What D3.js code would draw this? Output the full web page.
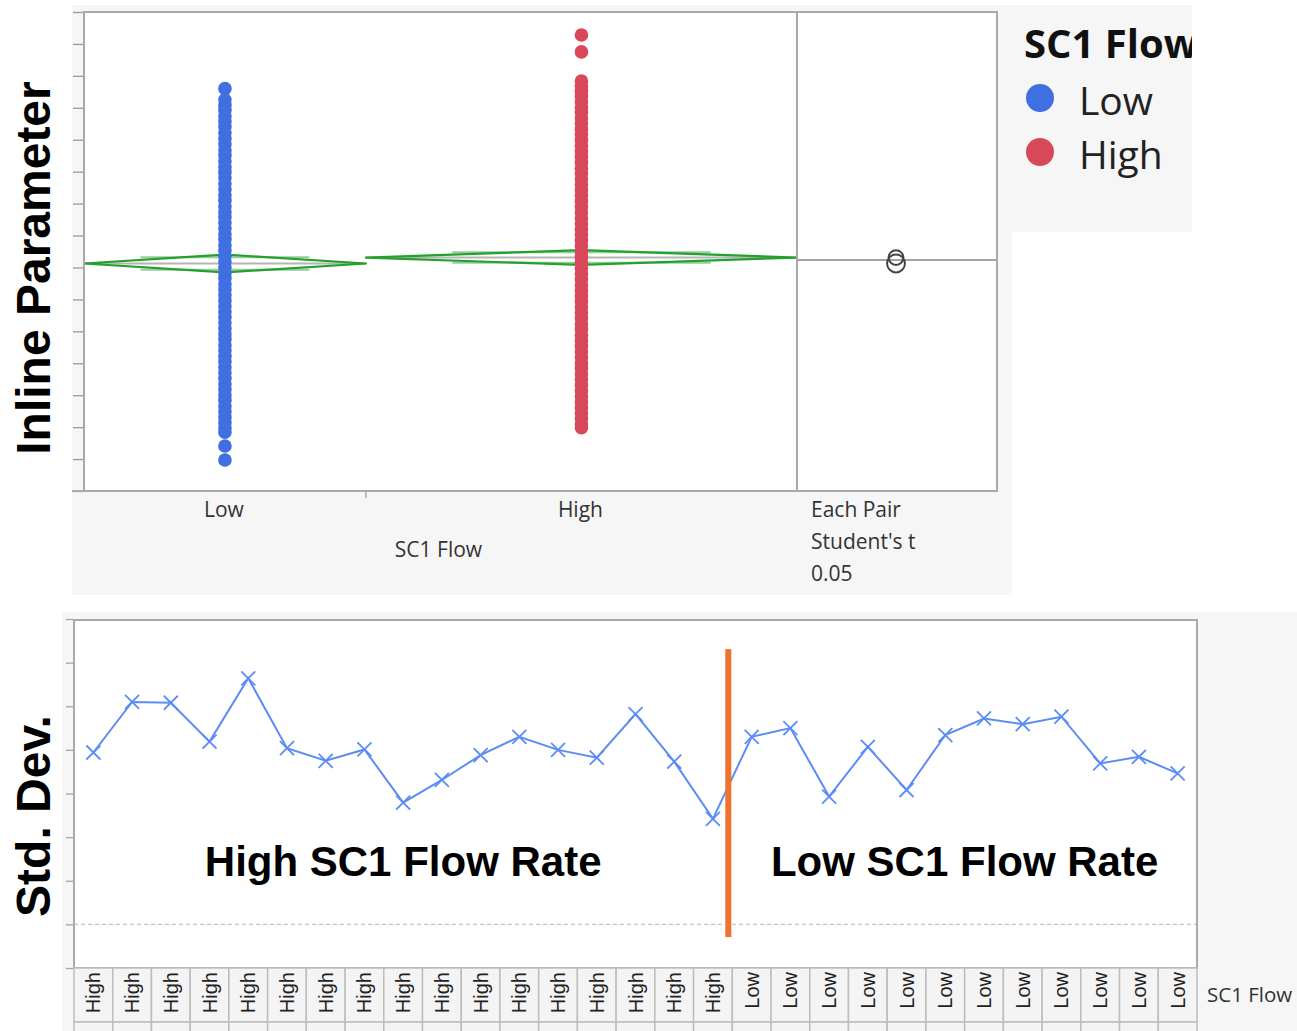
<!DOCTYPE html>
<html>
<head>
<meta charset="utf-8">
<script src="https://cdn.jsdelivr.net/npm/d3@7"></script>
<style>
  html, body { margin: 0; padding: 0; background: #ffffff; }
  svg { display: block; }
</style>
</head>
<body>
<svg id="chart" width="1297" height="1031"></svg>
<script>
// ---- Oneway panel data: Inline Parameter by SC1 Flow ----
const groups = ["Low", "High"];
const groupColors = ["#3f6fe0", "#d9475a"];
const groupN = [340, 520];          // group sizes (set the proportional x widths)
const groupMeans = [7.125, 7.31];
const groupCI = [0.28, 0.23];       // 95% CI half widths of the means

const lowValues = [12.60, 12.25, 12.08, 11.92, 11.74, 11.57, 11.41, 11.22, 11.05, 10.87,
  10.68, 10.51, 10.33, 10.15, 9.98, 9.81, 9.62, 9.44, 9.27, 9.10, 8.92, 8.74, 8.57, 8.40,
  8.22, 8.05, 7.88, 7.70, 7.53, 7.36, 7.18, 7.01, 6.83, 6.66, 6.48, 6.31, 6.14, 5.96,
  5.79, 5.61, 5.44, 5.27, 5.09, 4.92, 4.75, 4.57, 4.40, 4.22, 4.05, 3.88, 3.70, 3.53,
  3.35, 3.18, 3.01, 2.84, 2.66, 2.49, 2.32, 2.14, 1.98, 1.84, 1.41, 0.97];
const highValues = [14.28, 13.75, 12.84, 12.68, 12.52, 12.36, 12.19, 12.02, 11.86, 11.68,
  11.51, 11.33, 11.16, 10.98, 10.81, 10.64, 10.47, 10.29, 10.11, 9.94, 9.77, 9.59, 9.42,
  9.25, 9.07, 8.90, 8.72, 8.55, 8.37, 8.20, 8.03, 7.85, 7.68, 7.50, 7.33, 7.15, 6.98,
  6.80, 6.63, 6.45, 6.28, 6.11, 5.93, 5.76, 5.58, 5.41, 5.23, 5.06, 4.88, 4.71, 4.53,
  4.36, 4.18, 4.01, 3.84, 3.66, 3.49, 3.31, 3.14, 2.96, 2.79, 2.61, 2.44, 2.27, 2.10, 1.98];
const compareLabel = ["Each Pair", "Student's t", "0.05"];

// ---- Variability panel data: Std. Dev. per run ----
const runFlow = ["High","High","High","High","High","High","High","High","High","High",
  "High","High","High","High","High","High","High",
  "Low","Low","Low","Low","Low","Low","Low","Low","Low","Low","Low","Low"];
const runStdDev = [4.94, 6.10, 6.08, 5.19, 6.64, 5.04, 4.75, 5.01, 3.79, 4.31,
  4.88, 5.30, 5.00, 4.82, 5.82, 4.73, 3.42,
  5.30, 5.50, 3.93, 5.07, 4.08, 5.34, 5.72, 5.59, 5.76, 4.69, 4.84, 4.46];
const stdTicks = [0, 1, 2, 3, 4, 5, 6, 7, 8];
const stdRefLine = 1;
const regionLabels = ["High SC1 Flow Rate", "Low SC1 Flow Rate"];

const svg = d3.select("#chart");
const uiFont = "'Open Sans', 'Noto Sans', sans-serif";
const boldFont = "'Liberation Sans', Arial, sans-serif";
const panelGray = "#f6f6f6";
const frameGray = "#a9a9a9";

// =================== TOP PANEL ===================
const topP = { left: 84, right: 797, outer: 997, top: 12, bottom: 491 };
svg.append("rect").attr("x", 72).attr("y", 5).attr("width", 940).attr("height", 590).attr("fill", panelGray);
svg.append("rect").attr("x", 1012).attr("y", 5).attr("width", 180).attr("height", 227).attr("fill", panelGray);
svg.append("rect").attr("x", topP.left).attr("y", topP.top)
  .attr("width", topP.outer - topP.left).attr("height", topP.bottom - topP.top).attr("fill", "#ffffff");

const yTop = d3.scaleLinear().domain([0, 15]).range([topP.bottom, topP.top]);
const nTotal = d3.sum(groupN);
const xTop = d3.scaleLinear().domain([0, nTotal]).range([topP.left, topP.right]);
const cum = [0, groupN[0], nTotal];
const groupCenter = i => xTop((cum[i] + cum[i + 1]) / 2);

// left axis ticks (no labels)
const yAxisTop = d3.axisLeft(yTop).tickValues(d3.range(0, 16)).tickSize(11).tickFormat("");
const gYTop = svg.append("g").attr("transform", `translate(${topP.left},0)`).call(yAxisTop);
gYTop.select(".domain").remove();
gYTop.selectAll("line").attr("stroke", "#9a9a9a").attr("stroke-width", 1.3);

// grand mean of all observations
const grandMean = d3.sum(groupMeans.map((m, i) => m * groupN[i])) / nTotal;

// means diamonds
const diamondG = svg.append("g");
groups.forEach((g, i) => {
  const x0 = xTop(cum[i]), x1 = xTop(cum[i + 1]), xc = (x0 + x1) / 2;
  const m = groupMeans[i], ci = groupCI[i];
  diamondG.append("line").attr("x1", x0).attr("x2", x1).attr("y1", yTop(m)).attr("y2", yTop(m))
    .attr("stroke", "#b5b5b5").attr("stroke-width", 2);
  const om = ci / Math.SQRT2;
  [m + om, m - om].forEach(v => {
    diamondG.append("line").attr("x1", x0 + (x1 - x0) * 0.2).attr("x2", x1 - (x1 - x0) * 0.2)
      .attr("y1", yTop(v)).attr("y2", yTop(v))
      .attr("stroke", "#7cc47f").attr("stroke-width", 2).attr("opacity", 0.8);
  });
  const pts = [[x0, yTop(m)], [xc, yTop(m + ci)], [x1, yTop(m)], [xc, yTop(m - ci)]];
  diamondG.append("path").attr("d", d3.line()(pts) + "Z")
    .attr("fill", "none").attr("stroke", "#23a02d").attr("stroke-width", 2.2)
    .attr("stroke-linejoin", "round");
});

// observations
const pointsG = svg.append("g");
[lowValues, highValues].forEach((vals, i) => {
  pointsG.selectAll(null).data(vals).enter().append("circle")
    .attr("cx", groupCenter(i)).attr("cy", d => yTop(d)).attr("r", 6.8)
    .attr("fill", groupColors[i]);
});

// comparison circles
svg.append("line").attr("x1", topP.right).attr("x2", topP.outer)
  .attr("y1", yTop(grandMean)).attr("y2", yTop(grandMean))
  .attr("stroke", "#a3a3a3").attr("stroke-width", 2);
const circX = (topP.right + topP.outer) / 2 - 1;
groups.forEach((g, i) => {
  const r = yTop(0) - yTop(groupCI[i]);
  svg.append("circle").attr("cx", circX).attr("cy", yTop(groupMeans[i])).attr("r", r)
    .attr("fill", "none").attr("stroke", "#444").attr("stroke-width", 2);
});

// frame
svg.append("rect").attr("x", topP.left).attr("y", topP.top)
  .attr("width", topP.outer - topP.left).attr("height", topP.bottom - topP.top)
  .attr("fill", "none").attr("stroke", frameGray).attr("stroke-width", 2);
svg.append("line").attr("x1", topP.right).attr("x2", topP.right).attr("y1", topP.top).attr("y2", topP.bottom)
  .attr("stroke", frameGray).attr("stroke-width", 2);
svg.append("line").attr("x1", 72).attr("x2", topP.outer).attr("y1", topP.bottom).attr("y2", topP.bottom)
  .attr("stroke", frameGray).attr("stroke-width", 2);
svg.append("line").attr("x1", xTop(cum[1])).attr("x2", xTop(cum[1])).attr("y1", topP.bottom).attr("y2", topP.bottom + 7)
  .attr("stroke", frameGray).attr("stroke-width", 1.5);

// x labels
groups.forEach((g, i) => {
  svg.append("text").attr("x", groupCenter(i) - 1).attr("y", 517).attr("text-anchor", "middle")
    .attr("font-family", uiFont).attr("font-size", 21).attr("fill", "#333").text(g);
});
svg.append("text").attr("x", (topP.left + topP.right) / 2 - 2).attr("y", 557).attr("text-anchor", "middle")
  .attr("font-family", uiFont).attr("font-size", 21).attr("fill", "#333").text("SC1 Flow");
compareLabel.forEach((t, i) => {
  svg.append("text").attr("x", 811).attr("y", 517 + i * 32)
    .attr("font-family", uiFont).attr("font-size", 21).attr("fill", "#333").text(t);
});

// y title
svg.append("text").attr("transform", "translate(50,268) rotate(-90)").attr("text-anchor", "middle")
  .attr("font-family", boldFont).attr("font-weight", "bold").attr("font-size", 48).attr("fill", "#000")
  .text("Inline Parameter");

// legend
const clip = svg.append("defs").append("clipPath").attr("id", "legClip");
clip.append("rect").attr("x", 1012).attr("y", 5).attr("width", 180).attr("height", 227);
const leg = svg.append("g");
leg.append("text").attr("x", 1024).attr("y", 58).attr("font-family", uiFont).attr("font-weight", "bold")
  .attr("font-size", 40).attr("fill", "#111").attr("clip-path", "url(#legClip)").text("SC1 Flow");
groups.forEach((g, i) => {
  const cy = 98 + i * 54;
  leg.append("circle").attr("cx", 1040).attr("cy", cy).attr("r", 14).attr("fill", groupColors[i]);
  leg.append("text").attr("x", 1079).attr("y", cy + 17).attr("font-family", uiFont)
    .attr("font-size", 39).attr("fill", "#222").text(g);
});

// =================== BOTTOM PANEL ===================
const botP = { left: 74, right: 1197, top: 620, bottom: 968, cellBottom: 1022 };
svg.append("rect").attr("x", 62).attr("y", 612).attr("width", 1235).attr("height", 419).attr("fill", panelGray);
svg.append("rect").attr("x", botP.left).attr("y", botP.top).attr("width", botP.right - botP.left)
  .attr("height", botP.bottom - botP.top).attr("fill", "#ffffff");

const yBot = d3.scaleLinear().domain([0, 8]).range([botP.bottom, 619]);
const xBot = d3.scaleBand().domain(d3.range(runStdDev.length)).range([botP.left, botP.right]);

const yAxisBot = d3.axisLeft(yBot).tickValues(stdTicks).tickSize(7).tickFormat("");
const gYBot = svg.append("g").attr("transform", `translate(${botP.left - 1},0)`).call(yAxisBot);
gYBot.select(".domain").remove();
gYBot.selectAll("line").attr("stroke", "#a5a5a5").attr("stroke-width", 1.3);

// reference line
svg.append("line").attr("x1", botP.left).attr("x2", botP.right)
  .attr("y1", yBot(stdRefLine)).attr("y2", yBot(stdRefLine))
  .attr("stroke", "#c4c4c4").attr("stroke-width", 1.2).attr("stroke-dasharray", "4,3");

// region labels
const splitIndex = runFlow.indexOf("Low");
const regionCenters = [
  (xBot(0) + xBot(splitIndex)) / 2,
  (xBot(splitIndex) + botP.right) / 2
];
regionLabels.forEach((t, i) => {
  svg.append("text").attr("x", regionCenters[i]).attr("y", 876).attr("text-anchor", "middle")
    .attr("font-family", boldFont).attr("font-weight", "bold").attr("font-size", 42).attr("fill", "#000")
    .text(t);
});

// std dev line with x markers
const lineColor = "#5b8cf6";
const cx = i => xBot(i) + xBot.bandwidth() / 2;
svg.append("path").datum(runStdDev)
  .attr("d", d3.line().x((d, i) => cx(i)).y(d => yBot(d)))
  .attr("fill", "none").attr("stroke", lineColor).attr("stroke-width", 2);
const mk = 7;
const markG = svg.append("g").attr("stroke", lineColor).attr("stroke-width", 1.8);
runStdDev.forEach((d, i) => {
  const x = cx(i), y = yBot(d);
  markG.append("line").attr("x1", x - mk).attr("y1", y - mk).attr("x2", x + mk).attr("y2", y + mk);
  markG.append("line").attr("x1", x - mk).attr("y1", y + mk).attr("x2", x + mk).attr("y2", y - mk);
});

// flow-rate divider
svg.append("rect").attr("x", xBot(splitIndex) - 7).attr("y", yBot(7.31))
  .attr("width", 6).attr("height", yBot(0.71) - yBot(7.31)).attr("fill", "#ee7330");

// plot frame
svg.append("rect").attr("x", botP.left).attr("y", botP.top).attr("width", botP.right - botP.left)
  .attr("height", botP.bottom - botP.top).attr("fill", "none").attr("stroke", frameGray).attr("stroke-width", 2);

// category cells
const cellG = svg.append("g");
runFlow.forEach((f, i) => {
  cellG.append("rect").attr("x", xBot(i)).attr("y", botP.bottom).attr("width", xBot.bandwidth())
    .attr("height", botP.cellBottom - botP.bottom).attr("fill", "#f4f4f4")
    .attr("stroke", "#bdbdbd").attr("stroke-width", 1.5);
  cellG.append("rect").attr("x", xBot(i)).attr("y", botP.cellBottom).attr("width", xBot.bandwidth())
    .attr("height", 20).attr("fill", "#f4f4f4")
    .attr("stroke", "#bdbdbd").attr("stroke-width", 1.5);
  cellG.append("text").attr("transform", `translate(${cx(i)},${botP.bottom + 4}) rotate(-90)`)
    .attr("text-anchor", "end").attr("dominant-baseline", "central")
    .attr("font-family", "'Liberation Sans', Arial, sans-serif").attr("font-size", 20).attr("fill", "#222")
    .text(f);
});
svg.append("text").attr("x", 1207).attr("y", 1002).attr("font-family", uiFont).attr("font-size", 20.5)
  .attr("fill", "#333").text("SC1 Flow");

// y title
svg.append("text").attr("transform", "translate(50,816) rotate(-90)").attr("text-anchor", "middle")
  .attr("font-family", boldFont).attr("font-weight", "bold").attr("font-size", 48).attr("fill", "#000")
  .text("Std. Dev.");
</script>
</body>
</html>
